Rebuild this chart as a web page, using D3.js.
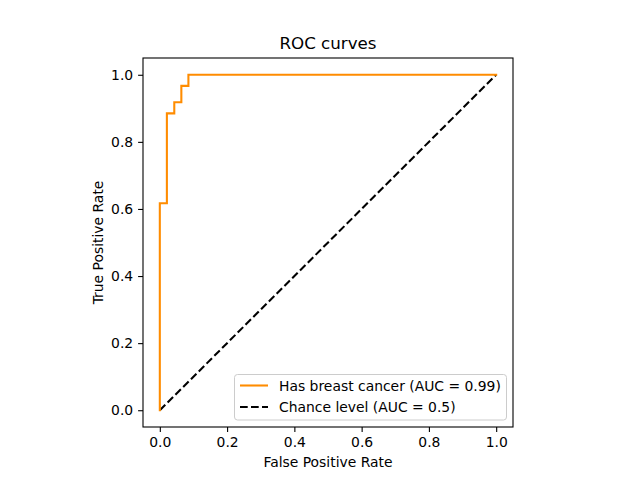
<!DOCTYPE html>
<html>
<head>
<meta charset="utf-8">
<script src="https://cdn.jsdelivr.net/npm/d3@7"></script>
<style>
  body { margin: 0; background: #fff; }
  text { font-family: "DejaVu Sans", sans-serif; fill: #000; }
</style>
</head>
<body>
<script>
const width = 640;
const height = 480;
// axes box in pixels (matplotlib square axes)
const margins = { top: 58, left: 143, bottom: 53, right: 127 };

// ROC data
const fpr = [0, 0, 0.021, 0.021, 0.043, 0.043, 0.064, 0.064, 0.085, 0.085, 1];
const tpr = [0, 0.617, 0.617, 0.885, 0.885, 0.918, 0.918, 0.967, 0.967, 1, 1];
const chanceX = [0, 1];
const chanceY = [0, 1];
const ticks = [0, 0.2, 0.4, 0.6, 0.8, 1.0];
const legendLabels = ['Has breast cancer (AUC = 0.99)', 'Chance level (AUC = 0.5)'];

const draw_width = width - margins.left - margins.right;
const draw_height = height - margins.top - margins.bottom;

const svg = d3.select('body')
  .append('svg')
  .attr('width', width)
  .attr('height', height);

const xScale = d3.scaleLinear()
  .domain([-0.05, 1.05])
  .range([margins.left, margins.left + draw_width]);
const yScale = d3.scaleLinear()
  .domain([-0.05, 1.05])
  .range([margins.top + draw_height, margins.top]);

// axes
const xAxis = d3.axisBottom(xScale)
  .tickValues(ticks)
  .tickFormat(d3.format('.1f'))
  .tickSize(4.9)
  .tickPadding(4.9);
svg.append('g')
  .attr('transform', 'translate(0,' + (margins.top + draw_height) + ')')
  .call(xAxis)
  .call(g => g.select('.domain').remove());

const yAxis = d3.axisLeft(yScale)
  .tickValues(ticks)
  .tickFormat(d3.format('.1f'))
  .tickSize(4.9)
  .tickPadding(4.9);
svg.append('g')
  .attr('transform', 'translate(' + margins.left + ',0)')
  .call(yAxis)
  .call(g => g.select('.domain').remove());

svg.selectAll('.tick line').attr('stroke', '#000').attr('stroke-width', 1.1);
svg.selectAll('.tick text')
  .style('font-family', '"DejaVu Sans", sans-serif')
  .style('font-size', '13.9px')
  .attr('fill', '#000');

// curves
const line = d3.line()
  .x(d => xScale(d[0]))
  .y(d => yScale(d[1]));

svg.append('path')
  .datum(d3.zip(chanceX, chanceY))
  .attr('d', line)
  .attr('fill', 'none')
  .attr('stroke', '#000')
  .attr('stroke-width', 2.08)
  .attr('stroke-dasharray', '7.7,3.3');

svg.append('path')
  .datum(d3.zip(fpr, tpr))
  .attr('d', line)
  .attr('fill', 'none')
  .attr('stroke', '#ff8c00')
  .attr('stroke-width', 2.08)
  .attr('stroke-linejoin', 'miter')
  .attr('stroke-linecap', 'square');

// frame
svg.append('rect')
  .attr('x', margins.left)
  .attr('y', margins.top)
  .attr('width', draw_width)
  .attr('height', draw_height)
  .attr('fill', 'none')
  .attr('stroke', '#000')
  .attr('stroke-width', 1.1);

// title and labels
svg.append('text')
  .attr('x', margins.left + draw_width / 2)
  .attr('y', margins.top - 9)
  .attr('text-anchor', 'middle')
  .style('font-size', '16.7px')
  .text('ROC curves');

svg.append('text')
  .attr('x', margins.left + draw_width / 2)
  .attr('y', 467)
  .attr('text-anchor', 'middle')
  .style('font-size', '13.9px')
  .text('False Positive Rate');

svg.append('text')
  .attr('transform', 'translate(103,' + (margins.top + draw_height / 2) + ') rotate(-90)')
  .attr('text-anchor', 'middle')
  .style('font-size', '13.9px')
  .text('True Positive Rate');

// legend
const legend = svg.append('g');
legend.append('rect')
  .attr('x', 234.5)
  .attr('y', 374.5)
  .attr('width', 272)
  .attr('height', 45.5)
  .attr('rx', 3)
  .attr('fill', '#fff')
  .attr('fill-opacity', 0.8)
  .attr('stroke', '#cccccc')
  .attr('stroke-width', 1);

const legendStyles = [
  { color: '#ff8c00', dash: null },
  { color: '#000', dash: '7.7,3.3' }
];
legendLabels.forEach((label, i) => {
  const y = 385.5 + i * 21.5;
  legend.append('line')
    .attr('x1', 240).attr('x2', 268)
    .attr('y1', y).attr('y2', y)
    .attr('stroke', legendStyles[i].color)
    .attr('stroke-width', 2.08)
    .attr('stroke-dasharray', legendStyles[i].dash);
  legend.append('text')
    .attr('x', 279)
    .attr('y', y + 5)
    .style('font-size', '13.9px')
    .text(label);
});
</script>
</body>
</html>
